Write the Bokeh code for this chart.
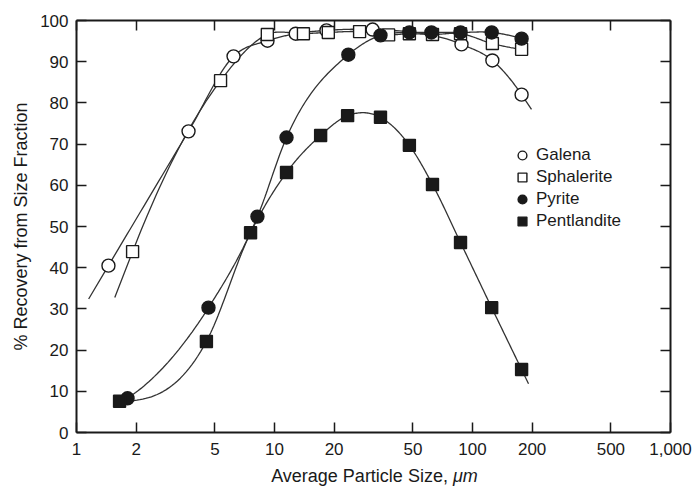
import numpy as np
from bokeh.plotting import figure
from bokeh.models import (FixedTicker, LogAxis, LinearAxis, Legend, LegendItem,
                          Label, NumeralTickFormatter, CustomJSTickFormatter, Range1d)
from bokeh.embed import file_html
from bokeh.resources import INLINE

# ---- data ----
galena_x = [1.45, 3.68, 6.21, 9.22, 12.8, 18.3, 31.3, 88, 126, 177]
galena_y = [40.5, 73.1, 91.3, 95.1, 96.8, 97.6, 97.8, 94.2, 90.3, 82.0]

sphalerite_x = [1.92, 5.34, 9.2, 14.0, 18.7, 26.9, 37.7, 48, 62.8, 87, 126, 177]
sphalerite_y = [43.9, 85.4, 96.6, 96.8, 97.1, 97.3, 96.5, 96.8, 96.6, 96.8, 94.4, 93.0]

pyrite_x = [1.81, 4.64, 8.2, 11.5, 23.6, 34.3, 48, 62, 87, 125, 177]
pyrite_y = [8.3, 30.3, 52.4, 71.6, 91.7, 96.4, 97.1, 97.1, 97.1, 97.1, 95.6]

pentlandite_x = [1.65, 4.53, 7.57, 11.5, 17.1, 23.4, 34.3, 48, 62.8, 87, 125, 177]
pentlandite_y = [7.6, 22.1, 48.5, 63.1, 72.1, 76.9, 76.5, 69.7, 60.2, 46.1, 30.3, 15.3]

x_ticks = [1, 2, 5, 10, 20, 50, 100, 200, 500, 1000]
y_ticks = [0, 10, 20, 30, 40, 50, 60, 70, 80, 90, 100]

FONT = "Liberation Sans"
INK = "#1a1a1a"

# ---- layout (pixels); the frame covers the whole canvas ----
W, H = 694, 486
BOX_L, BOX_W = 76, 594           # the 1..1000 box, in canvas pixels
TOP, BOX_H = 20, 412             # the 0..100 box
X_DEC = BOX_W / 3.0              # pixels per decade
X_LO = 10 ** (-BOX_L / X_DEC)
X_HI = 10 ** (3 + (W - BOX_L - BOX_W) / X_DEC)
BELOW = H - TOP - BOX_H
Y_LO = -100.0 * BELOW / BOX_H
Y_HI = 100.0 + 100.0 * TOP / BOX_H


def px_to_x(px):
    return 10 ** ((px - BOX_L) / X_DEC)


def smooth_curve(xs, ys, ext_lo=0.0, ext_hi=0.0, n=30):
    """Cubic Hermite curve through the points in (log10 x, y) space,
    optionally extended linearly beyond the ends (in decades)."""
    lx = np.log10(np.asarray(xs, float))
    y = np.asarray(ys, float)
    h = np.diff(lx)
    d = np.diff(y) / h
    m = np.empty_like(y)
    m[1:-1] = (d[:-1] * h[1:] + d[1:] * h[:-1]) / (h[:-1] + h[1:])

    def end_slope(h0, h1, d0, d1):
        s = ((2 * h0 + h1) * d0 - h0 * d1) / (h0 + h1)
        if np.sign(s) != np.sign(d0):
            return 0.0
        return s

    m[0] = end_slope(h[0], h[1], d[0], d[1])
    m[-1] = end_slope(h[-1], h[-2], d[-1], d[-2])
    px, py = [], []
    if ext_lo > 0:
        px += [lx[0] - ext_lo]
        py += [y[0] - ext_lo * m[0]]
    for i in range(len(h)):
        t = np.linspace(0, 1, n, endpoint=False)
        h00 = 2 * t**3 - 3 * t**2 + 1
        h10 = t**3 - 2 * t**2 + t
        h01 = -2 * t**3 + 3 * t**2
        h11 = t**3 - t**2
        px += list(lx[i] + t * h[i])
        py += list(h00 * y[i] + h10 * h[i] * m[i] + h01 * y[i + 1] + h11 * h[i] * m[i + 1])
    px.append(lx[-1])
    py.append(y[-1])
    if ext_hi > 0:
        px.append(lx[-1] + ext_hi)
        py.append(y[-1] + ext_hi * m[-1])
    return 10 ** np.array(px), np.array(py)


p = figure(width=W, height=H, x_axis_type="log", x_range=Range1d(X_LO, X_HI),
           y_range=Range1d(Y_LO, Y_HI), output_backend="svg", toolbar_location=None,
           min_border_left=0, min_border_right=0, min_border_top=0,
           min_border_bottom=0)
p.grid.visible = False
p.background_fill_color = "white"
p.border_fill_color = "white"
p.outline_line_color = None

common = dict(major_tick_in=10, major_tick_out=0, minor_tick_line_color=None,
              major_tick_line_color=INK, major_tick_line_width=1.5,
              axis_line_color=INK, axis_line_width=2)

xa = p.xaxis[0]
xa.fixed_location = 0
xa.bounds = (1, 1000)
xa.ticker = FixedTicker(ticks=x_ticks)
xa.formatter = NumeralTickFormatter(format="0,0")
ya = p.yaxis[0]
ya.fixed_location = 1
ya.bounds = (0, 100)
ya.ticker = FixedTicker(ticks=y_ticks)
for ax in (xa, ya):
    for k, v in common.items():
        setattr(ax, k, v)
    ax.major_label_text_font = FONT
    ax.major_label_text_font_size = "17px"
    ax.major_label_text_color = INK
xa.major_label_standoff = 10
ya.major_label_standoff = 8

blank = CustomJSTickFormatter(code="return ''")
top = LogAxis(ticker=FixedTicker(ticks=x_ticks), formatter=blank, bounds=(1, 1000),
              fixed_location=100, major_label_standoff=0, **common)
right = LinearAxis(ticker=FixedTicker(ticks=y_ticks), formatter=blank, bounds=(0, 100),
                   fixed_location=1000, major_label_standoff=0, **common)
p.add_layout(top, "above")
p.add_layout(right, "right")

series = [
    ("Galena", galena_x, galena_y, "circle", "white", 0.10, 0.05),
    ("Sphalerite", sphalerite_x, sphalerite_y, "square", "white", 0.09, 0.0),
    ("Pyrite", pyrite_x, pyrite_y, "circle", INK, 0.0, 0.0),
    ("Pentlandite", pentlandite_x, pentlandite_y, "square", INK, 0.0, 0.035),
]

for name, xs, ys, mk, fill, lo, hi in series:
    cx, cy = smooth_curve(xs, ys, lo, hi)
    p.line(cx, cy, line_color="#333333", line_width=1.3)

items = []
for name, xs, ys, mk, fill, lo, hi in series:
    r = p.scatter(xs, ys, marker=mk, size=13 if mk == "circle" else 12,
                  fill_color=fill, line_color=INK, line_width=1.4)
    items.append(LegendItem(label=name, renderers=[r]))

# legend location is measured from the bottom-left of the frame
legend = Legend(items=items, location=(BOX_L + 435, 200 + BELOW),
                glyph_width=22, glyph_height=22,
                label_height=20, spacing=0, padding=0, margin=0, label_standoff=3,
                label_text_font=FONT, label_text_font_size="17px", label_text_color=INK,
                border_line_color=None, background_fill_alpha=0)
p.add_layout(legend, "center")

# y axis title
ylab = Label(x=px_to_x(20), y=50, text="% Recovery from Size Fraction", angle=np.pi / 2,
             text_align="center", text_baseline="middle", text_font=FONT,
             text_font_size="18px", text_color=INK)
p.add_layout(ylab)

# x axis title (with italic unit), under the 0 line
title_y = Y_LO * 0.81
split_x = 76.0
lab1 = Label(x=split_x, y=title_y, text="Average Particle Size,", text_align="right",
             text_baseline="middle", x_offset=-1, text_font=FONT, text_font_size="18px",
             text_color=INK)
lab2 = Label(x=split_x, y=title_y, text="μm", text_align="left", text_baseline="middle",
             x_offset=4, text_font=FONT, text_font_size="18px", text_font_style="italic",
             text_color=INK)
p.add_layout(lab1)
p.add_layout(lab2)

open("out.html", "w").write(file_html(p, INLINE))
